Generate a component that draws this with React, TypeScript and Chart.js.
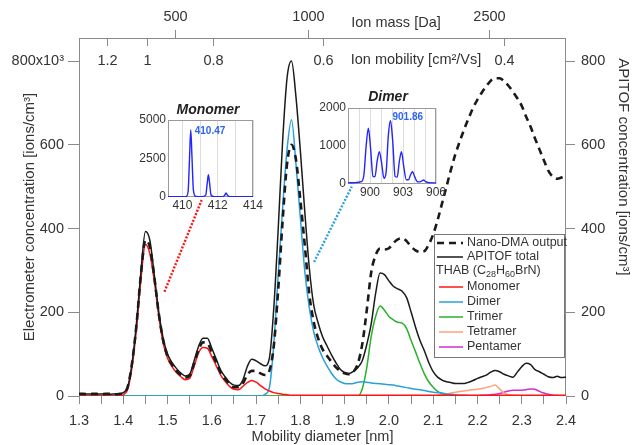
import React, { useEffect, useRef } from 'react';
import { Chart, registerables } from 'chart.js';

Chart.register(...registerables);

const FONT = "'Liberation Sans', Arial, Helvetica, sans-serif";
const TEXT = '#333333';
const AXIS = '#8a8a8a';

// ---------- main chart data (mobility diameter, nm) ----------
const diameter = [
  1.30, 1.31, 1.32, 1.33, 1.34, 1.35, 1.36, 1.37, 1.38, 1.39,
  1.40, 1.41, 1.42, 1.43, 1.44, 1.45, 1.46, 1.47, 1.48, 1.49,
  1.50, 1.51, 1.52, 1.53, 1.54, 1.55, 1.56, 1.57, 1.58, 1.59,
  1.60, 1.61, 1.62, 1.63, 1.64, 1.65, 1.66, 1.67, 1.68, 1.69,
  1.70, 1.71, 1.72, 1.73, 1.74, 1.75, 1.76, 1.77, 1.78, 1.79,
  1.80, 1.81, 1.82, 1.83, 1.84, 1.85, 1.86, 1.87, 1.88, 1.89,
  1.90, 1.91, 1.92, 1.93, 1.94, 1.95, 1.96, 1.97, 1.98, 1.99,
  2.00, 2.01, 2.02, 2.03, 2.04, 2.05, 2.06, 2.07, 2.08, 2.09,
  2.10, 2.11, 2.12, 2.13, 2.14, 2.15, 2.16, 2.17, 2.18, 2.19,
  2.20, 2.21, 2.22, 2.23, 2.24, 2.25, 2.26, 2.27, 2.28, 2.29,
  2.30, 2.31, 2.32, 2.33, 2.34, 2.35, 2.36, 2.37, 2.38, 2.39,
  2.40,
];

const nanoDma = [
  5, 5, 4, 5, 5, 4, 5, 5, 4, 5,
  8, 22, 80, 172, 292, 372, 356, 285, 198, 134,
  95, 75, 60, 50, 44, 48, 78, 110, 128, 126,
  104, 80, 56, 40, 28, 21, 21, 30, 50, 60,
  60, 54, 50, 60, 120, 255, 420, 555, 600, 565,
  468, 360, 245, 178, 138, 112, 96, 82, 69, 60,
  54, 52, 58, 78, 125, 205, 295, 336, 352, 350,
  353, 365, 374, 377, 370, 357, 348, 344, 346, 362,
  386, 420, 460, 500, 540, 577, 608, 637, 663, 688,
  708, 725, 740, 753, 759, 759, 752, 741, 727, 711,
  693, 667, 643, 615, 589, 563, 538, 524, 519, 522,
  527,
];

const apitofTotal = [
  4, 4, 5, 4, 4, 5, 4, 4, 5, 5,
  8, 22, 80, 176, 298, 393, 372, 290, 202, 138,
  100, 80, 66, 55, 48, 52, 84, 118, 138, 138,
  114, 88, 62, 46, 33, 26, 25, 38, 70, 88,
  84, 77, 72, 90, 210, 400, 610, 760, 800, 715,
  585, 440, 308, 218, 175, 142, 120, 99, 80, 64,
  56, 54, 59, 68, 85, 123, 172, 245, 294, 290,
  275, 262, 256, 250, 235, 201, 165, 133, 108, 80,
  58, 45, 38, 34, 32, 30, 30, 30, 33, 37,
  42, 46, 50, 57, 61, 58, 52, 48, 45, 57,
  70, 78, 75, 63, 58, 52, 46, 44, 47, 44,
  45,
];

const monomer = [
  0, 0, 0, 0, 0, 0, 0, 0, 0, 0,
  3, 16, 70, 162, 280, 362, 340, 275, 192, 127,
  90, 70, 56, 46, 39, 42, 71, 103, 116, 114,
  94, 72, 50, 35, 23, 16, 15, 23, 32, 37,
  33, 25, 17, 12, 8, 6, 4, 3, 2, 2,
  2, 2, 2, 2, 2, 2, 2, 2, 2, 2,
  2, 2, 2, 2, 2, 2, 2, 2, 2, 2,
  2, 2, 2, 2, 2, 2, 2, 2, 2, 2,
  2, 2, 2, 2, 2, 2, 2, 2, 2, 2,
  2, 2, 2, 2, 2, 2, 2, 2, 2, 2,
  2, 2, 2, 2, 2, 2, 2, 2, 2, 2,
  2,
];

const dimer = [
  0, 0, 0, 0, 0, 0, 0, 0, 0, 0,
  0, 0, 0, 0, 0, 0, 0, 0, 0, 0,
  0, 0, 0, 0, 0, 0, 0, 0, 0, 0,
  0, 0, 0, 0, 0, 0, 0, 0, 0, 0,
  0, 0, 4, 20, 124, 290, 450, 590, 660, 555,
  425, 298, 212, 154, 118, 92, 72, 55, 41, 34,
  30, 29, 30, 33, 34, 33, 31, 30, 29, 28,
  27, 26, 24, 22, 20, 18, 16, 15, 13, 11,
  9, 8, 7, 5, 4, 3, 2, 2, 1, 0,
  0, 0, 0, 0, 0, 0, 0, 0, 0, 0,
  0, 0, 0, 0, 0, 0, 0, 0, 0, 0,
  0,
];

const trimer = [
  0, 0, 0, 0, 0, 0, 0, 0, 0, 0,
  0, 0, 0, 0, 0, 0, 0, 0, 0, 0,
  0, 0, 0, 0, 0, 0, 0, 0, 0, 0,
  0, 0, 0, 0, 0, 0, 0, 0, 0, 0,
  0, 0, 0, 0, 0, 0, 0, 0, 0, 0,
  0, 0, 0, 0, 0, 0, 0, 0, 0, 0,
  0, 0, 0, 0, 18, 68, 142, 190, 215, 205,
  190, 182, 176, 174, 161, 133, 106, 78, 53, 34,
  21, 11, 6, 3, 1, 0, 0, 0, 0, 0,
  0, 0, 0, 0, 0, 0, 0, 0, 0, 0,
  0, 0, 0, 0, 0, 0, 0, 0, 0, 0,
  0,
];

const tetramer = [
  0, 0, 0, 0, 0, 0, 0, 0, 0, 0,
  0, 0, 0, 0, 0, 0, 0, 0, 0, 0,
  0, 0, 0, 0, 0, 0, 0, 0, 0, 0,
  0, 0, 0, 0, 0, 0, 0, 0, 0, 0,
  0, 0, 0, 0, 0, 0, 0, 0, 0, 0,
  0, 0, 0, 0, 0, 0, 0, 0, 0, 0,
  0, 0, 0, 0, 0, 0, 0, 0, 0, 0,
  0, 0, 0, 0, 0, 0, 0, 0, 0, 0,
  0, 2, 4, 5, 7, 9, 11, 12, 14, 15,
  16, 18, 20, 23, 26, 17, 7, 3, 2, 1,
  0, 0, 0, 0, 0, 0, 0, 0, 0, 0,
  0,
];

const pentamer = [
  0, 0, 0, 0, 0, 0, 0, 0, 0, 0,
  0, 0, 0, 0, 0, 0, 0, 0, 0, 0,
  0, 0, 0, 0, 0, 0, 0, 0, 0, 0,
  0, 0, 0, 0, 0, 0, 0, 0, 0, 0,
  0, 0, 0, 0, 0, 0, 0, 0, 0, 0,
  0, 0, 0, 0, 0, 0, 0, 0, 0, 0,
  0, 0, 0, 0, 0, 0, 0, 0, 0, 0,
  0, 0, 0, 0, 0, 0, 0, 0, 0, 0,
  0, 0, 0, 0, 0, 0, 0, 0, 0, 0,
  0, 2, 2, 3, 4, 6, 9, 12, 14, 14,
  14, 15, 17, 16, 11, 7, 4, 2, 1, 0,
  0,
];

// connector lines from peaks to insets (diameter, concentration)
const monomerLinkDiameter = [1.493, 1.577];
const monomerLinkValue = [249, 468];
const dimerLinkDiameter = [1.831, 1.916];
const dimerLinkValue = [320, 500];

// axes
const xTickValues = [1.3, 1.35, 1.4, 1.45, 1.5, 1.55, 1.6, 1.65, 1.7, 1.75, 1.8, 1.85, 1.9, 1.95, 2.0, 2.05, 2.1, 2.15, 2.2, 2.25, 2.3, 2.35, 2.4];
const xTickLabels = ['1.3', '', '1.4', '', '1.5', '', '1.6', '', '1.7', '', '1.8', '', '1.9', '', '2.0', '', '2.1', '', '2.2', '', '2.3', '', '2.4'];
const yTickValues = [0, 200, 400, 600, 800];
const yLeftLabels = ['0', '200', '400', '600', '800x10³'];
const yRightLabels = ['0', '200', '400', '600', '800'];
const massTickLabels = ['500', '1000', '2500'];
const massTickDiameters = [1.517, 1.818, 2.226];
const mobilityTickLabels = ['1.2', '1', '0.8', '0.6', '0.4'];
const mobilityTickDiameters = [1.363, 1.454, 1.602, 1.851, 2.261];

const seriesLabels = ['Nano-DMA output', 'APITOF total', 'Monomer', 'Dimer', 'Trimer', 'Tetramer', 'Pentamer'];
const seriesColors = ['#1a1a1a', '#1a1a1a', '#ff1414', '#2a9fdc', '#2bb02b', '#ffa27a', '#cf2fcf'];

// ---------- inset data (m/z, counts) ----------
const monoMz = [409.18, 409.8, 410.2, 410.32, 410.40, 410.47, 410.54, 410.62, 410.76, 411.1, 411.32, 411.40, 411.47, 411.54, 411.62, 411.8, 412.3, 412.40, 412.47, 412.55, 412.7, 413.4, 414.0];
const monoCounts = [15, 15, 25, 350, 2500, 4350, 2600, 450, 40, 25, 120, 850, 1440, 880, 130, 25, 20, 130, 260, 120, 20, 15, 15];
const monoTicks = [410, 411, 412, 413, 414];
const monoTickLabels = ['410', '', '412', '', '414'];
const monoYTicks = [0, 2500, 5000];
const monoYLabels = ['0', '2500', '5000'];
const monoPeak = [410.47, 4350];
const monoPeakLabel = '410.47';

const dimerMz = [898.0, 898.6, 899.2, 899.45, 899.65, 899.85, 900.05, 900.27, 900.45, 900.65, 900.85, 901.05, 901.27, 901.47, 901.66, 901.86, 902.06, 902.28, 902.47, 902.67, 902.86, 903.06, 903.3, 903.5, 903.7, 903.87, 904.05, 904.3, 904.55, 904.72, 904.87, 905.05, 905.35, 906.0];
const dimerCounts = [30, 35, 60, 250, 1000, 1470, 950, 200, 190, 600, 850, 560, 150, 320, 1250, 1666, 1150, 200, 180, 600, 850, 480, 110, 110, 250, 324, 200, 60, 55, 85, 105, 60, 35, 30];
const dimerTicks = [898, 899, 900, 901, 902, 903, 904, 905, 906];
const dimerTickLabels = ['', '', '900', '', '', '903', '', '', '906'];
const dimerYTicks = [0, 1000, 2000];
const dimerYLabels = ['0', '1000', '2000'];
const dimerPeak = [901.86, 1666];
const dimerPeakLabel = '901.86';

function pts(xs: number[], ys: number[]) {
  return xs.map((x, i) => ({ x, y: ys[i] }));
}

function drawRich(ctx: CanvasRenderingContext2D, parts: [string, boolean][], x: number, y: number, size: number) {
  let cx = x;
  for (const [t, sub] of parts) {
    ctx.font = `${sub ? size * 0.72 : size}px ${FONT}`;
    ctx.fillText(t, cx, sub ? y + size * 0.3 : y);
    cx += ctx.measureText(t).width;
  }
}

const mainDecor = {
  id: 'mainDecor',
  beforeDatasetsDraw(chart: any) {
    const { ctx, chartArea: a } = chart;
    ctx.save();
    ctx.strokeStyle = AXIS;
    ctx.lineWidth = 1;
    ctx.strokeRect(a.left + 0.5, a.top + 0.5, a.right - a.left - 1, a.bottom - a.top - 1);
    ctx.restore();
  },
  afterDraw(chart: any) {
    const { ctx, chartArea: a } = chart;
    const xs = chart.scales.x;
    ctx.save();
    ctx.strokeStyle = AXIS;
    ctx.lineWidth = 1;
    ctx.fillStyle = TEXT;
    ctx.font = `14.5px ${FONT}`;
    ctx.textAlign = 'center';
    ctx.textBaseline = 'middle';
    massTickDiameters.forEach((d, i) => {
      const px = Math.round(xs.getPixelForValue(d)) + 0.5;
      ctx.beginPath();
      ctx.moveTo(px, a.top - 8);
      ctx.lineTo(px, a.top);
      ctx.stroke();
      ctx.fillText(massTickLabels[i], px, a.top - 21);
    });
    mobilityTickDiameters.forEach((d, i) => {
      const px = Math.round(xs.getPixelForValue(d)) + 0.5;
      ctx.beginPath();
      ctx.moveTo(px, a.top);
      ctx.lineTo(px, a.top + 8);
      ctx.stroke();
      ctx.fillText(mobilityTickLabels[i], px, a.top + 23);
    });
    ctx.fillText('Ion mass [Da]', 396, a.top - 15);
    ctx.fillText('Ion mobility [cm²/Vs]', 416, a.top + 22);

    // right axis title
    ctx.save();
    ctx.translate(623, 167);
    ctx.rotate(Math.PI / 2);
    ctx.font = `15px ${FONT}`;
    ctx.fillText('APITOF concentration [ions/cm³]', 0, 0);
    ctx.restore();

    // legend
    const lx = 434, ly = 234, lw = 130, lh = 123;
    ctx.fillStyle = '#ffffff';
    ctx.fillRect(lx, ly, lw, lh);
    ctx.strokeStyle = '#777777';
    ctx.strokeRect(lx + 0.5, ly + 0.5, lw, lh);
    const ds = chart.data.datasets;
    const rows: [number, number][] = [[0, 243], [1, 257], [2, 287], [3, 302], [4, 317], [5, 332], [6, 347]];
    ctx.textAlign = 'left';
    rows.forEach(([i, y]) => {
      const d = ds[i];
      ctx.save();
      ctx.strokeStyle = d.borderColor;
      ctx.lineWidth = d.borderWidth;
      ctx.setLineDash(d.borderDash || []);
      ctx.beginPath();
      ctx.moveTo(i < 2 ? 437 : 439, y);
      ctx.lineTo(463, y);
      ctx.stroke();
      ctx.restore();
      ctx.fillStyle = TEXT;
      ctx.font = `12.5px ${FONT}`;
      ctx.fillText(d.label, 467, y);
    });
    ctx.fillStyle = TEXT;
    drawRich(ctx, [['THAB (C', false], ['28', true], ['H', false], ['60', true], ['BrN)', false]], 436, 271, 12.5);
    ctx.restore();
  },
};

function MainChart() {
  const ref = useRef<HTMLCanvasElement>(null);
  useEffect(() => {
    const series = [nanoDma, apitofTotal, monomer, dimer, trimer, tetramer, pentamer];
    const datasets: any[] = series.map((s, i) => ({
      label: seriesLabels[i],
      data: pts(diameter, s),
      borderColor: seriesColors[i],
      backgroundColor: seriesColors[i],
      borderWidth: i === 0 ? 2.6 : 1.5,
      borderDash: i === 0 ? [7, 5] : undefined,
      yAxisID: i === 0 ? 'y' : 'y2',
      pointRadius: 0,
      fill: false,
      cubicInterpolationMode: 'monotone',
      order: i,
    }));
    datasets.push({
      label: 'monomer-link',
      data: pts(monomerLinkDiameter, monomerLinkValue),
      borderColor: '#ff1414',
      borderWidth: 2.4,
      borderDash: [2, 1.6],
      pointRadius: 0,
      yAxisID: 'y',
      order: 10,
    });
    datasets.push({
      label: 'dimer-link',
      data: pts(dimerLinkDiameter, dimerLinkValue),
      borderColor: '#2a9fdc',
      borderWidth: 2.4,
      borderDash: [2, 1.6],
      pointRadius: 0,
      yAxisID: 'y',
      order: 11,
    });

    const chart = new Chart(ref.current as HTMLCanvasElement, {
      type: 'line',
      data: { datasets },
      options: {
        animation: false,
        responsive: false,
        maintainAspectRatio: false,
        layout: { padding: { top: 38, left: 0, right: 0, bottom: 0 } },
        plugins: { legend: { display: false }, tooltip: { enabled: false }, title: { display: false } },
        scales: {
          x: {
            type: 'linear',
            position: 'bottom',
            min: 1.3,
            max: 2.4,
            afterBuildTicks: (s: any) => { s.ticks = xTickValues.map((v) => ({ value: v })); },
            afterFit: (s: any) => { s.height = 49; },
            ticks: {
              callback: (_v: any, i: number) => xTickLabels[i],
              autoSkip: false,
              maxRotation: 0,
              padding: 8,
              color: TEXT,
              font: { size: 14.5, family: FONT },
            },
            grid: { display: true, drawOnChartArea: false, drawTicks: true, tickLength: 8, color: AXIS },
            border: { display: false },
            title: { display: true, text: 'Mobility diameter [nm]', color: TEXT, font: { size: 14.5, family: FONT }, padding: { top: 0, bottom: -1 } },
          },
          y: {
            type: 'linear',
            position: 'left',
            min: 0,
            max: 855,
            afterBuildTicks: (s: any) => { s.ticks = yTickValues.map((v) => ({ value: v })); },
            afterFit: (s: any) => { s.width = 79; },
            ticks: {
              callback: (_v: any, i: number) => yLeftLabels[i],
              padding: 4,
              color: TEXT,
              font: { size: 14.5, family: FONT },
            },
            grid: { display: true, drawOnChartArea: false, drawTicks: true, tickLength: 11, color: AXIS },
            border: { display: false },
            title: { display: true, text: 'Electrometer concentration [ions/cm³]', color: TEXT, font: { size: 15, family: FONT }, padding: { top: 21, bottom: 0 } },
          },
          y2: {
            type: 'linear',
            position: 'right',
            min: 0,
            max: 855,
            afterBuildTicks: (s: any) => { s.ticks = yTickValues.map((v) => ({ value: v })); },
            afterFit: (s: any) => { s.width = 74; },
            ticks: {
              callback: (_v: any, i: number) => yRightLabels[i],
              padding: 6,
              color: TEXT,
              font: { size: 14.5, family: FONT },
            },
            grid: { display: true, drawOnChartArea: false, drawTicks: true, tickLength: 9, color: AXIS },
            border: { display: false },
          },
        },
      } as any,
      plugins: [mainDecor],
    });
    return () => chart.destroy();
  }, []);
  return <canvas ref={ref} width={640} height={445} style={{ position: 'absolute', left: 0, top: 0, width: 640, height: 445 }} />;
}

type InsetProps = {
  left: number; top: number; width: number; height: number;
  padTop: number; padRight: number; axisHeight: number;
  mz: number[]; counts: number[];
  xMin: number; xMax: number; yMax: number;
  xTicks: number[]; xLabels: string[]; yTicks: number[]; yLabels: string[];
  title: string; titleX: number; titleY: number;
  peak: number[]; peakLabel: string; peakDx: number; peakDy: number;
};

function Inset(p: InsetProps) {
  const ref = useRef<HTMLCanvasElement>(null);
  useEffect(() => {
    const decor = {
      id: 'insetDecor',
      beforeDatasetsDraw(chart: any) {
        const { ctx, chartArea: a } = chart;
        ctx.save();
        ctx.strokeStyle = '#9a9a9a';
        ctx.lineWidth = 1;
        ctx.strokeRect(a.left + 0.5, a.top + 0.5, a.right - a.left - 1, a.bottom - a.top - 1);
        ctx.restore();
      },
      afterDraw(chart: any) {
        const { ctx } = chart;
        ctx.save();
        ctx.fillStyle = '#222222';
        ctx.font = `italic bold 14px ${FONT}`;
        ctx.textAlign = 'center';
        ctx.textBaseline = 'middle';
        ctx.fillText(p.title, p.titleX, p.titleY);
        const px = chart.scales.x.getPixelForValue(p.peak[0]);
        const py = chart.scales.y.getPixelForValue(p.peak[1]);
        ctx.fillStyle = '#2f62f0';
        ctx.font = `bold 10px ${FONT}`;
        ctx.textAlign = 'left';
        ctx.fillText(p.peakLabel, px + p.peakDx, py + p.peakDy);
        ctx.restore();
      },
    };
    const chart = new Chart(ref.current as HTMLCanvasElement, {
      type: 'line',
      data: {
        datasets: [{
          data: pts(p.mz, p.counts),
          borderColor: '#2424ff',
          borderWidth: 1.4,
          pointRadius: 0,
          fill: false,
          cubicInterpolationMode: 'monotone',
        }],
      },
      options: {
        animation: false,
        responsive: false,
        maintainAspectRatio: false,
        layout: { padding: { top: p.padTop, right: p.padRight, left: 0, bottom: 0 } },
        plugins: { legend: { display: false }, tooltip: { enabled: false } },
        scales: {
          x: {
            type: 'linear',
            min: p.xMin,
            max: p.xMax,
            afterBuildTicks: (s: any) => { s.ticks = p.xTicks.map((v) => ({ value: v })); },
            afterFit: (s: any) => { s.height = p.axisHeight; },
            ticks: {
              callback: (_v: any, i: number) => p.xLabels[i],
              autoSkip: false,
              maxRotation: 0,
              padding: 1,
              color: TEXT,
              font: { size: 12, family: FONT },
            },
            grid: { display: true, drawOnChartArea: true, drawTicks: false, color: '#dcdcdc' },
            border: { display: false },
          },
          y: {
            type: 'linear',
            min: 0,
            max: p.yMax,
            afterBuildTicks: (s: any) => { s.ticks = p.yTicks.map((v) => ({ value: v })); },
            afterFit: (s: any) => { s.width = 50; },
            ticks: {
              callback: (_v: any, i: number) => p.yLabels[i],
              padding: 2,
              color: TEXT,
              font: { size: 12, family: FONT },
            },
            grid: { display: false, drawTicks: false },
            border: { display: false },
          },
        },
      } as any,
      plugins: [decor],
    });
    return () => chart.destroy();
  }, []);
  return (
    <canvas
      ref={ref}
      width={p.width}
      height={p.height}
      style={{ position: 'absolute', left: p.left, top: p.top, width: p.width, height: p.height, pointerEvents: 'none' }}
    />
  );
}

export default function App() {
  useEffect(() => {
    document.body.style.margin = '0';
  }, []);
  return (
    <div style={{ position: 'relative', width: 640, height: 445, background: '#ffffff', overflow: 'hidden' }}>
      <MainChart />
      <Inset
        left={118} top={98} width={152} height={118}
        padTop={22} padRight={17} axisHeight={19}
        mz={monoMz} counts={monoCounts}
        xMin={409.18} xMax={414} yMax={5000}
        xTicks={monoTicks} xLabels={monoTickLabels} yTicks={monoYTicks} yLabels={monoYLabels}
        title="Monomer" titleX={90} titleY={12.5}
        peak={monoPeak} peakLabel={monoPeakLabel} peakDx={4} peakDy={1}
      />
      <Inset
        left={298} top={82} width={160} height={122}
        padTop={26} padRight={22} axisHeight={20}
        mz={dimerMz} counts={dimerCounts}
        xMin={898} xMax={906} yMax={2000}
        xTicks={dimerTicks} xLabels={dimerTickLabels} yTicks={dimerYTicks} yLabels={dimerYLabels}
        title="Dimer" titleX={90} titleY={15.3}
        peak={dimerPeak} peakLabel={dimerPeakLabel} peakDx={2} peakDy={-3}
      />
    </div>
  );
}
